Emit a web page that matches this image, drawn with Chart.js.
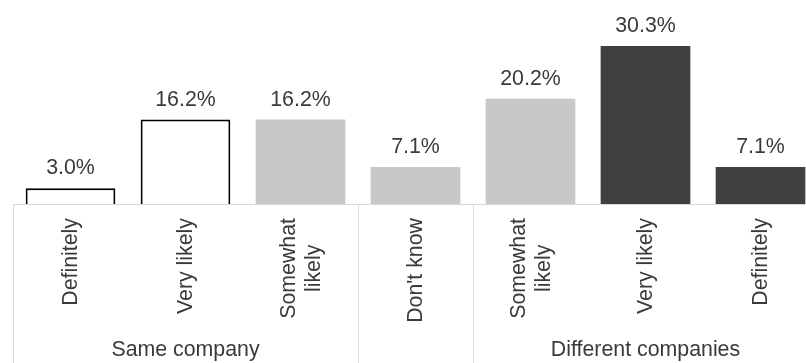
<!DOCTYPE html>
<html>
<head>
<meta charset="utf-8">
<script src="https://cdn.jsdelivr.net/npm/chart.js@4.4.1/dist/chart.umd.min.js"></script>
<style>
  html, body { margin: 0; padding: 0; background: #fff; overflow: hidden; }
  #wrap { width: 818px; height: 363px; position: relative; }
</style>
</head>
<body>
<div id="wrap"><canvas id="chart"></canvas></div>
<script>
// Category labels (multi-line ones as arrays)
const categories = [
  'Definitely', 'Very likely', ['Somewhat', 'likely'], "Don't know",
  ['Somewhat', 'likely'], 'Very likely', 'Definitely'
];
// Share of respondents, %
const shares = [3.0, 16.2, 16.2, 7.1, 20.2, 30.3, 7.1];
const barColors = ['#ffffff', '#ffffff', '#c8c8c8', '#c8c8c8', '#c8c8c8', '#404040', '#404040'];
const barBorders = [2, 2, 0, 0, 0, 0, 0];
// Groups: label, first index, last index
const groupNames = ['Same company', 'Different companies'];
const groupStart = [0, 4];
const groupEnd = [2, 6];
// Category boundaries that get a separator line
const separators = [0, 3, 4, 7];

const textColor = '#3a3a3a';
const fontFamily = '"Liberation Sans", Arial, sans-serif';
const fontSize = 21.33;
const lineGap = 24.5;

// Draws the value labels, rotated category labels, separator lines and group names
const extras = {
  id: 'extras',
  afterDatasetsDraw(chart) {
    const ctx = chart.ctx;
    const meta = chart.getDatasetMeta(0);
    ctx.save();
    ctx.fillStyle = textColor;
    ctx.font = fontSize + 'px ' + fontFamily;
    ctx.textAlign = 'center';
    ctx.textBaseline = 'alphabetic';
    meta.data.forEach((bar, i) => {
      ctx.fillText(shares[i].toFixed(1) + '%', bar.x, bar.y - 14);
    });
    ctx.restore();
  },
  afterDraw(chart) {
    const ctx = chart.ctx;
    const x = chart.scales.x;
    const cw = x.getPixelForValue(1) - x.getPixelForValue(0);
    const edge = (i) => x.getPixelForValue(0) - cw / 2 + i * cw;
    const top = chart.chartArea.bottom;
    ctx.save();
    ctx.strokeStyle = '#d9d9d9';
    ctx.lineWidth = 1;
    separators.forEach((i) => {
      const px = Math.round(edge(i)) + 0.5;
      ctx.beginPath();
      ctx.moveTo(px, top);
      ctx.lineTo(px, chart.height);
      ctx.stroke();
    });
    ctx.fillStyle = textColor;
    ctx.font = fontSize + 'px ' + fontFamily;

    // category labels, reading bottom to top, block ends 14px under the axis,
    // lines centred on each other inside the block
    ctx.textAlign = 'center';
    ctx.textBaseline = 'middle';
    categories.forEach((label, i) => {
      const lines = Array.isArray(label) ? label : [label];
      const maxW = Math.max(...lines.map((l) => ctx.measureText(l).width));
      const cx = x.getPixelForValue(i);
      lines.forEach((line, k) => {
        const off = (k - (lines.length - 1) / 2) * lineGap;
        ctx.save();
        ctx.translate(cx + off + 1, top + 14 + maxW / 2);
        ctx.rotate(-Math.PI / 2);
        ctx.fillText(line, 0, 0);
        ctx.restore();
      });
    });

    ctx.textBaseline = 'alphabetic';
    groupNames.forEach((name, g) => {
      const cx = (edge(groupStart[g]) + edge(groupEnd[g] + 1)) / 2;
      ctx.fillText(name, cx, 356);
    });
    ctx.restore();
  }
};

new Chart(document.getElementById('chart'), {
  type: 'bar',
  data: {
    labels: categories,
    datasets: [{
      data: shares,
      backgroundColor: barColors,
      borderColor: '#000000',
      borderWidth: barBorders,
      barPercentage: 0.78,
      categoryPercentage: 1.0
    }]
  },
  options: {
    responsive: true,
    maintainAspectRatio: false,
    animation: false,
    layout: { padding: { left: 13, right: 0, top: 21.5, bottom: 0 } },
    plugins: {
      legend: { display: false },
      tooltip: { enabled: false }
    },
    scales: {
      x: {
        grid: { display: false, drawTicks: false },
        border: { display: true, color: '#d9d9d9', width: 1 },
        afterFit: (scale) => { scale.height = 159; },
        ticks: { display: false }
      },
      y: {
        display: false,
        min: 0,
        max: 35
      }
    }
  },
  plugins: [extras]
});
</script>
</body>
</html>
